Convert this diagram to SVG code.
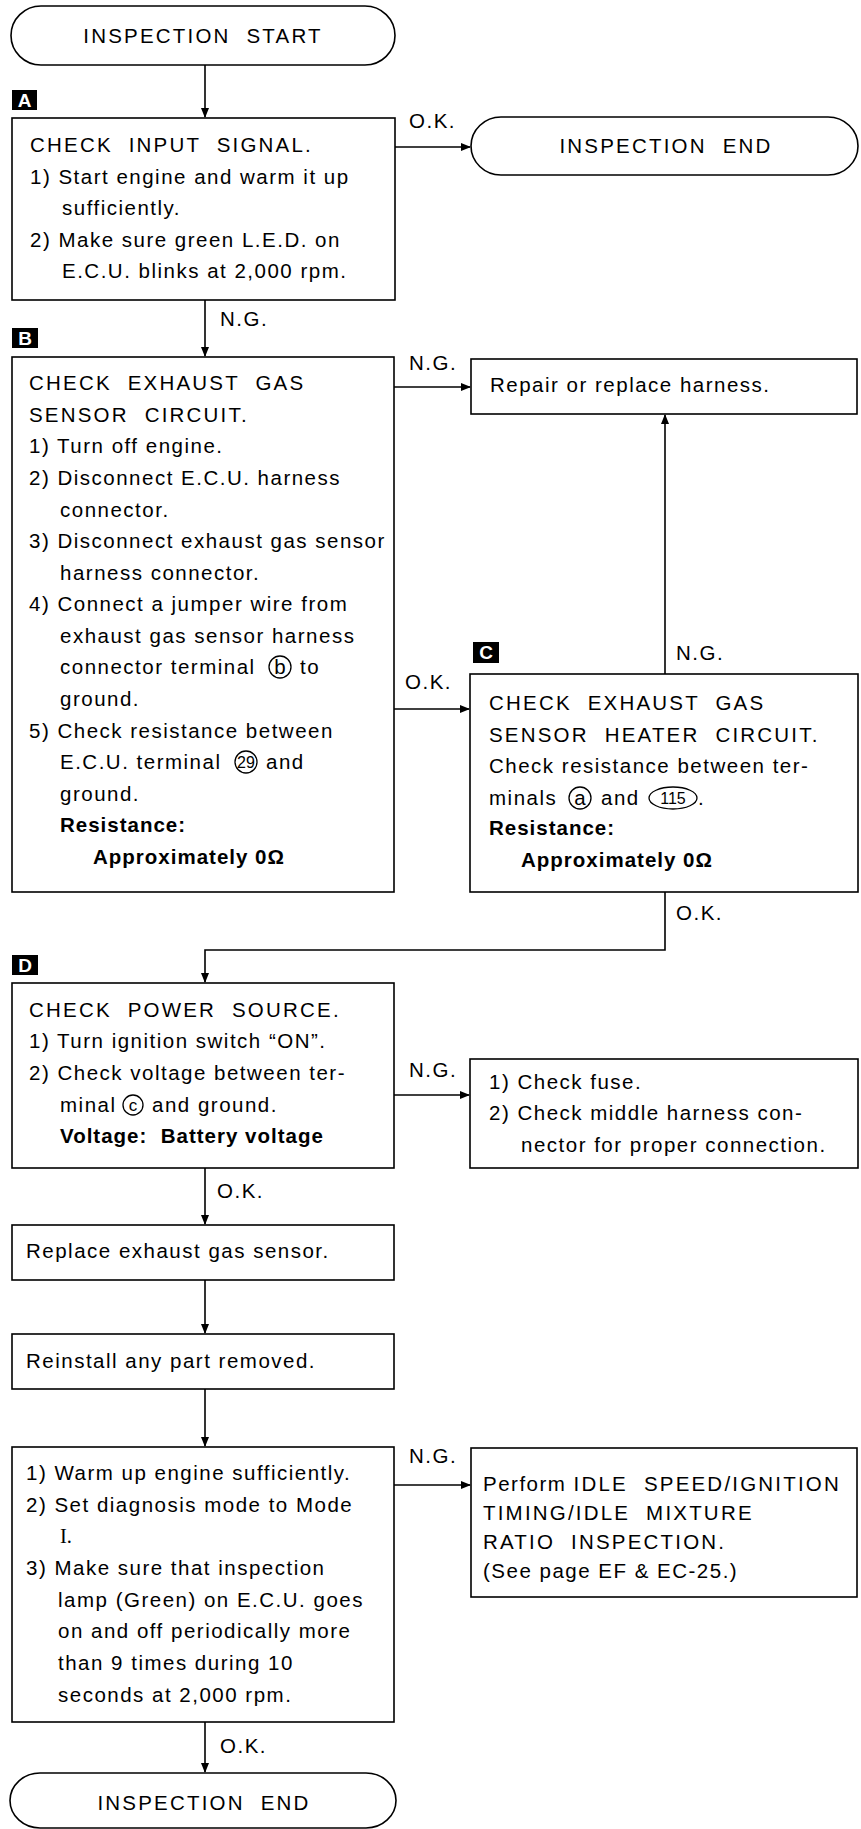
<svg xmlns="http://www.w3.org/2000/svg" width="861" height="1829" viewBox="0 0 861 1829">
<style>
text{font-family:"Liberation Sans",Arial,sans-serif;font-size:20.5px;fill:#000}
.b{letter-spacing:1.5px}
.h{letter-spacing:2.2px;word-spacing:8px}
.bd{font-weight:bold;letter-spacing:1px}
.c{text-anchor:middle}
.badge-t{fill:#fff;font-weight:bold;font-size:19px;text-anchor:middle}
.box{fill:#fff;stroke:#000;stroke-width:1.6}
.ln{fill:none;stroke:#000;stroke-width:1.6}
.circ{fill:none;stroke:#000;stroke-width:1.3}
.sm{font-size:16px;text-anchor:middle}
</style>
<defs>
<marker id="ah" markerWidth="10" markerHeight="8" refX="9" refY="4" orient="auto" markerUnits="userSpaceOnUse">
<path d="M0,0 L10,4 L0,8 Z" fill="#000"/>
</marker>
</defs>
<rect width="861" height="1829" fill="#fff"/>

<g id="connectors">
<line class="ln" x1="205" y1="65" x2="205" y2="117" marker-end="url(#ah)"/>
<line class="ln" x1="395" y1="147" x2="470" y2="147" marker-end="url(#ah)"/>
<text class="b" x="409" y="128">O.K.</text>
<line class="ln" x1="205" y1="300" x2="205" y2="356" marker-end="url(#ah)"/>
<text class="b" x="220" y="326">N.G.</text>
<line class="ln" x1="394" y1="387" x2="470" y2="387" marker-end="url(#ah)"/>
<text class="b" x="409" y="370">N.G.</text>
<line class="ln" x1="394" y1="709" x2="469" y2="709" marker-end="url(#ah)"/>
<text class="b" x="405" y="689">O.K.</text>
<line class="ln" x1="665" y1="674" x2="665" y2="415" marker-end="url(#ah)"/>
<text class="b" x="676" y="660">N.G.</text>
<polyline class="ln" points="665,892 665,950 205,950 205,982" marker-end="url(#ah)"/>
<text class="b" x="676" y="920">O.K.</text>
<line class="ln" x1="394" y1="1095" x2="469" y2="1095" marker-end="url(#ah)"/>
<text class="b" x="409" y="1077">N.G.</text>
<line class="ln" x1="205" y1="1168" x2="205" y2="1224" marker-end="url(#ah)"/>
<text class="b" x="217" y="1198">O.K.</text>
<line class="ln" x1="205" y1="1280" x2="205" y2="1333" marker-end="url(#ah)"/>
<line class="ln" x1="205" y1="1389" x2="205" y2="1446" marker-end="url(#ah)"/>
<line class="ln" x1="394" y1="1485" x2="470" y2="1485" marker-end="url(#ah)"/>
<text class="b" x="409" y="1463">N.G.</text>
<line class="ln" x1="205" y1="1722" x2="205" y2="1772" marker-end="url(#ah)"/>
<text class="b" x="220" y="1753">O.K.</text>
</g>

<g id="start">
<rect class="box" x="11" y="6" width="384" height="59" rx="30" ry="29.5"/>
<text class="h c" x="203" y="43">INSPECTION START</text>
</g>

<g id="badgeA">
<rect x="12" y="90" width="25" height="20" fill="#000"/>
<text class="badge-t" x="24.5" y="107">A</text>
</g>

<g id="boxA">
<rect class="box" x="12" y="118" width="383" height="182"/>
<text class="h" x="30" y="152">CHECK INPUT SIGNAL.</text>
<text class="b" x="30" y="184">1) Start engine and warm it up</text>
<text class="b" x="62" y="215">sufficiently.</text>
<text class="b" x="30" y="247">2) Make sure green L.E.D. on</text>
<text class="b" x="62" y="278">E.C.U. blinks at 2,000 rpm.</text>
</g>

<g id="end1">
<rect class="box" x="471" y="117" width="387" height="58" rx="30" ry="29"/>
<text class="h c" x="666" y="153">INSPECTION END</text>
</g>

<g id="badgeB">
<rect x="12" y="328" width="26" height="20" fill="#000"/>
<text class="badge-t" x="25" y="345">B</text>
</g>

<g id="boxB">
<rect class="box" x="12" y="357" width="382" height="535"/>
<text class="h" x="29" y="390">CHECK EXHAUST GAS</text>
<text class="h" x="29" y="422">SENSOR CIRCUIT.</text>
<text class="b" x="29" y="453">1) Turn off engine.</text>
<text class="b" x="29" y="485">2) Disconnect E.C.U. harness</text>
<text class="b" x="60" y="517">connector.</text>
<text class="b" x="29" y="548">3) Disconnect exhaust gas sensor</text>
<text class="b" x="60" y="580">harness connector.</text>
<text class="b" x="29" y="611">4) Connect a jumper wire from</text>
<text class="b" x="60" y="643">exhaust gas sensor harness</text>
<text class="b" x="60" y="674">connector terminal</text>
<circle class="circ" cx="280" cy="667" r="11"/>
<text class="c" x="280" y="674">b</text>
<text class="b" x="300" y="674">to</text>
<text class="b" x="60" y="706">ground.</text>
<text class="b" x="29" y="738">5) Check resistance between</text>
<text class="b" x="60" y="769">E.C.U. terminal</text>
<circle class="circ" cx="246" cy="762" r="11"/>
<text class="sm" x="246" y="768">29</text>
<text class="b" x="266" y="769">and</text>
<text class="b" x="60" y="801">ground.</text>
<text class="bd" x="60" y="832">Resistance:</text>
<text class="bd" x="93" y="864">Approximately 0Ω</text>
</g>

<g id="repair">
<rect class="box" x="471" y="359" width="386" height="55"/>
<text class="b" x="490" y="392">Repair or replace harness.</text>
</g>

<g id="badgeC">
<rect x="473" y="642" width="26" height="21" fill="#000"/>
<text class="badge-t" x="486" y="659">C</text>
</g>

<g id="boxC">
<rect class="box" x="470" y="674" width="388" height="218"/>
<text class="h" x="489" y="710">CHECK EXHAUST GAS</text>
<text class="h" x="489" y="742">SENSOR HEATER CIRCUIT.</text>
<text class="b" x="489" y="773">Check resistance between ter-</text>
<text class="b" x="489" y="805">minals</text>
<circle class="circ" cx="580" cy="798" r="11"/>
<text class="c" x="580" y="805">a</text>
<text class="b" x="601" y="805">and</text>
<ellipse class="circ" cx="673" cy="798" rx="24" ry="11"/>
<text class="sm" x="673" y="804">115</text>
<text class="b" x="698" y="805">.</text>
<text class="bd" x="489" y="835">Resistance:</text>
<text class="bd" x="521" y="867">Approximately 0Ω</text>
</g>

<g id="badgeD">
<rect x="12" y="955" width="26" height="20" fill="#000"/>
<text class="badge-t" x="25" y="972">D</text>
</g>

<g id="boxD">
<rect class="box" x="12" y="983" width="382" height="185"/>
<text class="h" x="29" y="1017">CHECK POWER SOURCE.</text>
<text class="b" x="29" y="1048">1) Turn ignition switch “ON”.</text>
<text class="b" x="29" y="1080">2) Check voltage between ter-</text>
<text class="b" x="60" y="1112">minal</text>
<circle class="circ" cx="133" cy="1105" r="10"/>
<text class="c" x="133" y="1111" style="font-size:17px">c</text>
<text class="b" x="152" y="1112">and ground.</text>
<text class="bd" x="60" y="1143" xml:space="preserve">Voltage:  Battery voltage</text>
</g>

<g id="fuse">
<rect class="box" x="470" y="1059" width="388" height="109"/>
<text class="b" x="489" y="1089">1) Check fuse.</text>
<text class="b" x="489" y="1120">2) Check middle harness con-</text>
<text class="b" x="521" y="1152">nector for proper connection.</text>
</g>

<g id="replace">
<rect class="box" x="12" y="1225" width="382" height="55"/>
<text class="b" x="26" y="1258">Replace exhaust gas sensor.</text>
</g>

<g id="reinstall">
<rect class="box" x="12" y="1334" width="382" height="55"/>
<text class="b" x="26" y="1368">Reinstall any part removed.</text>
</g>

<g id="final-check">
<rect class="box" x="12" y="1447" width="382" height="275"/>
<text class="b" x="26" y="1480">1) Warm up engine sufficiently.</text>
<text class="b" x="26" y="1512">2) Set diagnosis mode to Mode</text>
<text x="60" y="1543" style="font-family:'Liberation Serif',serif">I.</text>
<text class="b" x="26" y="1575">3) Make sure that inspection</text>
<text class="b" x="58" y="1607">lamp (Green) on E.C.U. goes</text>
<text class="b" x="58" y="1638">on and off periodically more</text>
<text class="b" x="58" y="1670">than 9 times during 10</text>
<text class="b" x="58" y="1702">seconds at 2,000 rpm.</text>
</g>

<g id="perform">
<rect class="box" x="471" y="1448" width="386" height="149"/>
<text class="b" x="483" y="1491">Perform <tspan class="h">IDLE SPEED/IGNITION</tspan></text>
<text class="h" x="483" y="1520">TIMING/IDLE MIXTURE</text>
<text class="h" x="483" y="1549">RATIO INSPECTION.</text>
<text class="b" x="483" y="1578">(See page EF &amp; EC-25.)</text>
</g>

<g id="end2">
<rect class="box" x="10" y="1773" width="386" height="55" rx="30" ry="27.5"/>
<text class="h c" x="204" y="1810">INSPECTION END</text>
</g>
</svg>
